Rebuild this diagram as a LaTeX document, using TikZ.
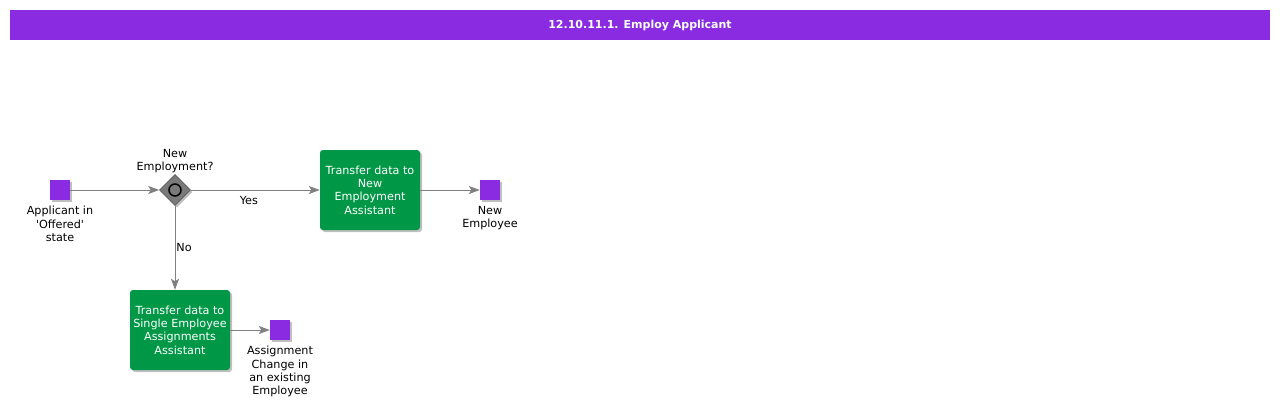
\documentclass[tikz,border=0pt]{standalone}
\usepackage{fontspec}
\setmainfont{DejaVu Sans}
\usetikzlibrary{shapes.geometric,shadows,arrows.meta}
\definecolor{bpurple}{HTML}{8A2BE2}
\definecolor{bgreen}{HTML}{009846}
\definecolor{lgrey}{HTML}{808080}
\definecolor{ggrey}{HTML}{7A7A7A}
\tikzset{
  txt/.style={font=\fontsize{11.2}{13.3}\selectfont, align=center, inner sep=0pt, text=black},
  evt/.style={draw=none, fill=bpurple, minimum width=20pt, minimum height=20pt, inner sep=0pt,
    drop shadow={shadow xshift=2pt, shadow yshift=-2pt, fill=black, opacity=0.25}},
  task/.style={fill=bgreen, rounded corners=3pt, minimum width=100pt, minimum height=80pt, inner sep=0pt,
    text=white, font=\fontsize{11.2}{13.3}\selectfont, align=center,
    drop shadow={shadow xshift=2pt, shadow yshift=-2pt, fill=black, opacity=0.25}},
  gate/.style={diamond, fill=ggrey, draw=gray!70!black, line width=0.6pt, minimum width=31pt, minimum height=31pt, inner sep=0pt,
    drop shadow={shadow xshift=2pt, shadow yshift=-2pt, fill=black, opacity=0.25}},
  flow/.style={draw=lgrey, line width=0.9pt, -{Stealth[length=11pt,width=8pt,inset=2.5pt]}, color=lgrey},
}
\begin{document}
\begin{tikzpicture}[x=1pt,y=-1pt]
\useasboundingbox (0,0) rectangle (1280,408);
\fill[bpurple] (10,10) rectangle (1270,40);
\node[text=white, font=\fontsize{11}{12}\selectfont\bfseries, inner sep=0pt] (title) at (640,26) {12.10.11.1. Employ Applicant};

\node[evt] (start) at (60,190) {};
\node[txt, anchor=north] (startl) at (60,206) {Applicant in\\\textquotesingle Offered\textquotesingle\\state};

\node[gate] (gw) at (175,190) {};
\node[draw=black, line width=1.5pt, circle, minimum size=12pt, inner sep=0pt] (gwc) at (175,190) {};
\node[txt, anchor=south] (gwl) at (175,173) {New\\Employment?};

\node[task] (t1) at (370,190) {Transfer data to\\New\\Employment\\Assistant};
\node[evt] (e1) at (490,190) {};
\node[txt, anchor=north] (e1l) at (490,206) {New\\Employee};

\node[task] (t2) at (180,330) {Transfer data to\\Single Employee\\Assignments\\Assistant};
\node[evt] (e2) at (280,330) {};
\node[txt, anchor=north] (e2l) at (280,346) {Assignment\\Change in\\an existing\\Employee};

\draw[flow] (start) -- (gw);
\draw[flow] (gw) -- node[txt, pos=0.45, yshift=-10pt] (yes) {Yes} (t1);
\draw[flow] (gw.south) -- node[txt, pos=0.5, xshift=9pt] (no) {No} (gw.south |- t2.north);
\draw[flow] (t1) -- (e1);
\draw[flow] (t2) -- (e2);
\end{tikzpicture}
\end{document}
